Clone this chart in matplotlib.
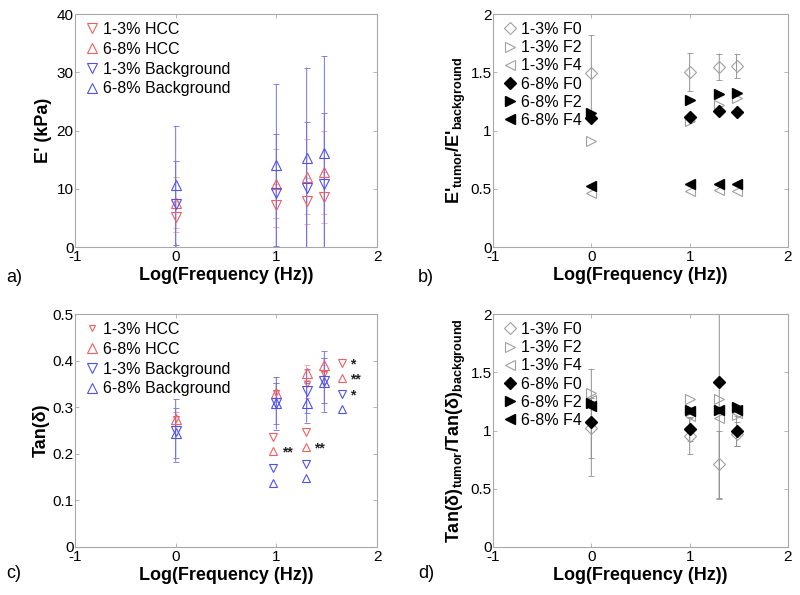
import matplotlib
matplotlib.use('Agg')
import matplotlib.pyplot as plt

plt.rcParams['font.family'] = ['Liberation Sans', 'DejaVu Sans']
plt.rcParams['mathtext.fontset'] = 'custom'
plt.rcParams['mathtext.rm'] = 'Liberation Sans'
plt.rcParams['mathtext.bf'] = 'Liberation Sans:bold'
plt.rcParams['mathtext.it'] = 'Liberation Sans:italic'

# ---------------- data ----------------
log_freq = [0.0, 1.0, 1.301, 1.477]

# a) E' (kPa)
e_hcc_13 = [5.2, 7.2, 7.9, 8.5]
e_hcc_13_sd = [2.7, 3.7, 4.0, 4.3]
e_hcc_68 = [7.6, 10.9, 12.1, 12.8]
e_hcc_68_sd = [4.4, 5.9, 6.4, 7.2]
e_bg_13 = [7.3, 9.3, 10.1, 10.8]
e_bg_13_sd = [7.5, 10.1, 11.3, 12.2]
e_bg_68 = [10.6, 14.0, 15.2, 16.2]
e_bg_68_sd = [10.2, 13.9, 15.6, 16.6]

# b) E'tumor / E'background
rb_13_f0 = [1.49, 1.50, 1.545, 1.553]
rb_13_f0_sd = [0.33, 0.165, 0.115, 0.105]
rb_13_f2 = [0.91, 1.08, 1.22, 1.275]
rb_13_f4 = [0.467, 0.48, 0.49, 0.478]
rb_68_f0 = [1.11, 1.12, 1.166, 1.157]
rb_68_f2 = [1.15, 1.26, 1.31, 1.324]
rb_68_f4 = [0.52, 0.54, 0.544, 0.544]

# c) Tan(delta)
t_hcc_13 = [0.274, 0.331, 0.349, 0.371]
t_hcc_13_sd = [0.015, 0.020, 0.030, 0.020]
t_hcc_68 = [0.274, 0.331, 0.374, 0.390]
t_hcc_68_sd = [0.015, 0.033, 0.016, 0.015]
t_bg_13 = [0.250, 0.308, 0.335, 0.357]
t_bg_13_sd = [0.067, 0.056, 0.047, 0.048]
t_bg_68 = [0.245, 0.308, 0.310, 0.355]
t_bg_68_sd = [0.053, 0.044, 0.043, 0.065]

# c) significance marker columns
sig_x = [0.97, 1.29, 1.65]
sig_hcc_13 = [0.237, 0.247, 0.394]
sig_hcc_68 = [0.206, 0.214, 0.362]
sig_bg_13 = [0.170, 0.178, 0.328]
sig_bg_68 = [0.138, 0.147, 0.296]
sig_hcc_13_txt = ['', '', '*']
sig_hcc_68_txt = ['**', '**', '**']
sig_bg_13_txt = ['', '', '*']

# d) Tan(delta)tumor / Tan(delta)background
rd_13_f0 = [1.02, 0.955, 0.71, 0.97]
rd_13_f0_sd = [0.26, 0.16, 0.29, 0.10]
rd_13_f2 = [1.32, 1.27, 1.27, 1.13]
rd_13_f4 = [1.26, 1.124, 1.105, 1.15]
rd_68_f0 = [1.07, 1.01, 1.413, 0.996]
rd_68_f0_sd = [0.46, 0.10, 1.0, 0.13]
rd_68_f2 = [1.24, 1.176, 1.18, 1.20]
rd_68_f4 = [1.21, 1.17, 1.175, 1.18]

# ---------------- style ----------------
RED = '#f06060'
BLUE = '#5050f0'
ERED = '#f4a0a0'
EBLUE = '#7070f2'
GRAY = '#a0a0a0'
EGRAY = '#909090'
SPINE = '#a8a8a8'
FS_TICK = 11
FS_LAB = 13
FS_LEG = 11.5

fig = plt.figure(figsize=(8.0, 5.95), dpi=100)
W, H = 800, 595


def make_ax(x0, y0, x1, y1):
    return fig.add_axes([x0 / W, 1 - y1 / H, (x1 - x0) / W, (y1 - y0) / H])


def style(ax, ylim, yticks, ylabels):
    ax.set_xlim(-1, 2)
    ax.set_ylim(*ylim)
    ax.set_xticks([-1, 0, 1, 2])
    ax.set_xticklabels(['-1', '0', '1', '2'])
    ax.set_yticks(yticks)
    ax.set_yticklabels(ylabels)
    for s in ax.spines.values():
        s.set_color(SPINE)
        s.set_linewidth(0.8)
    ax.tick_params(direction='in', length=3, width=0.6, color=SPINE,
                   top=True, right=True, labelsize=FS_TICK, pad=1)
    ax.tick_params(axis='x', pad=2)
    ax.set_xlabel('Log(Frequency (Hz))', fontsize=FS_LAB, fontweight='bold',
                  labelpad=2)


def legend(ax, spacing):
    ax.legend(loc='upper left', frameon=False, fontsize=FS_LEG, handletextpad=0.15,
              labelspacing=spacing, borderaxespad=0.2, handlelength=1.1,
              borderpad=0.3)


def ebar(ax, y, sd, color):
    cont = ax.errorbar(log_freq, y, yerr=sd, fmt='none', ecolor=color,
                       elinewidth=0.7, capsize=2, capthick=0.6)
    for art in cont.lines[1] + cont.lines[2]:
        art.set_snap(False)
    return cont


axa = make_ax(75, 14, 377, 247)
axb = make_ax(493, 14, 788, 247)
axc = make_ax(75, 314, 377, 547)
axd = make_ax(493, 314, 788, 547)

# ---- panel a ----
for y, sd, c in [(e_hcc_13, e_hcc_13_sd, ERED), (e_hcc_68, e_hcc_68_sd, ERED),
                 (e_bg_13, e_bg_13_sd, EBLUE), (e_bg_68, e_bg_68_sd, EBLUE)]:
    ebar(axa, y, sd, c)
axa.plot(log_freq, e_hcc_13, 'v', ms=7.5, mfc='none', mec=RED, mew=0.8, ls='none', label='1-3% HCC')
axa.plot(log_freq, e_hcc_68, '^', ms=7.5, mfc='none', mec=RED, mew=0.8, ls='none', label='6-8% HCC')
axa.plot(log_freq, e_bg_13, 'v', ms=7.5, mfc='none', mec=BLUE, mew=0.8, ls='none', label='1-3% Background')
axa.plot(log_freq, e_bg_68, '^', ms=7.5, mfc='none', mec=BLUE, mew=0.8, ls='none', label='6-8% Background')
style(axa, (0, 40), [0, 10, 20, 30, 40], ['0', '10', '20', '30', '40'])
axa.set_ylabel("E' (kPa)", fontsize=FS_LAB, fontweight='bold', labelpad=3)
legend(axa, 0.3)

# ---- panel b ----
ebar(axb, rb_13_f0, rb_13_f0_sd, EGRAY)
axb.plot(log_freq, rb_13_f0, 'D', ms=6, mfc='none', mec=GRAY, mew=0.8, ls='none', label='1-3% F0')
axb.plot(log_freq, rb_13_f2, '>', ms=7, mfc='none', mec=GRAY, mew=0.8, ls='none', label='1-3% F2')
axb.plot(log_freq, rb_13_f4, '<', ms=7, mfc='none', mec=GRAY, mew=0.8, ls='none', label='1-3% F4')
axb.plot(log_freq, rb_68_f0, 'D', ms=6, mfc='black', mec='black', ls='none', label='6-8% F0')
axb.plot(log_freq, rb_68_f2, '>', ms=7, mfc='black', mec='black', ls='none', label='6-8% F2')
axb.plot(log_freq, rb_68_f4, '<', ms=7, mfc='black', mec='black', ls='none', label='6-8% F4')
style(axb, (0, 2), [0, 0.5, 1, 1.5, 2], ['0', '0.5', '1', '1.5', '2'])
axb.set_ylabel(r"E'$_\mathbf{tumor}$/E'$_\mathbf{background}$", fontsize=FS_LAB,
               fontweight='bold', labelpad=2)
legend(axb, 0.2)

# ---- panel c ----
for y, sd, c in [(t_hcc_13, t_hcc_13_sd, ERED), (t_hcc_68, t_hcc_68_sd, ERED),
                 (t_bg_13, t_bg_13_sd, EBLUE), (t_bg_68, t_bg_68_sd, EBLUE)]:
    ebar(axc, y, sd, c)
axc.plot(log_freq, t_hcc_13, 'v', ms=5, mfc='none', mec=RED, mew=0.8, ls='none', label='1-3% HCC')
axc.plot(log_freq, t_hcc_68, '^', ms=7.5, mfc='none', mec=RED, mew=0.8, ls='none', label='6-8% HCC')
axc.plot(log_freq, t_bg_13, 'v', ms=7.5, mfc='none', mec=BLUE, mew=0.8, ls='none', label='1-3% Background')
axc.plot(log_freq, t_bg_68, '^', ms=7.5, mfc='none', mec=BLUE, mew=0.8, ls='none', label='6-8% Background')
axc.plot(sig_x, sig_hcc_13, 'v', ms=6, mfc='none', mec=RED, mew=0.8, ls='none')
axc.plot(sig_x, sig_hcc_68, '^', ms=6, mfc='none', mec=RED, mew=0.8, ls='none')
axc.plot(sig_x, sig_bg_13, 'v', ms=6, mfc='none', mec=BLUE, mew=0.8, ls='none')
axc.plot(sig_x, sig_bg_68, '^', ms=6, mfc='none', mec=BLUE, mew=0.8, ls='none')
for ys, ts in [(sig_hcc_13, sig_hcc_13_txt), (sig_hcc_68, sig_hcc_68_txt),
               (sig_bg_13, sig_bg_13_txt)]:
    for xv, yv, t in zip(sig_x, ys, ts):
        if t:
            axc.annotate(t, (xv, yv), xytext=(6, -1), textcoords='offset points',
                         ha='left', va='center', fontsize=10, fontweight='bold',
                         color='#222222')
style(axc, (0, 0.5), [0, 0.1, 0.2, 0.3, 0.4, 0.5],
      ['0', '0.1', '0.2', '0.3', '0.4', '0.5'])
axc.set_ylabel('Tan(δ)', fontsize=FS_LAB, fontweight='bold', labelpad=2)
legend(axc, 0.3)

# ---- panel d ----
ebar(axd, rd_13_f0, rd_13_f0_sd, EGRAY)
ebar(axd, rd_68_f0, rd_68_f0_sd, EGRAY)
axd.plot(log_freq, rd_13_f0, 'D', ms=6, mfc='none', mec=GRAY, mew=0.8, ls='none', label='1-3% F0')
axd.plot(log_freq, rd_13_f2, '>', ms=7, mfc='none', mec=GRAY, mew=0.8, ls='none', label='1-3% F2')
axd.plot(log_freq, rd_13_f4, '<', ms=7, mfc='none', mec=GRAY, mew=0.8, ls='none', label='1-3% F4')
axd.plot(log_freq, rd_68_f0, 'D', ms=6, mfc='black', mec='black', ls='none', label='6-8% F0')
axd.plot(log_freq, rd_68_f2, '>', ms=7, mfc='black', mec='black', ls='none', label='6-8% F2')
axd.plot(log_freq, rd_68_f4, '<', ms=7, mfc='black', mec='black', ls='none', label='6-8% F4')
style(axd, (0, 2), [0, 0.5, 1, 1.5, 2], ['0', '0.5', '1', '1.5', '2'])
axd.set_ylabel(r"Tan(δ)$_\mathbf{tumor}$/Tan(δ)$_\mathbf{background}$",
               fontsize=FS_LAB, fontweight='bold', labelpad=2)
legend(axd, 0.2)

# panel letters
for txt, x, y in [('a)', 6, 277), ('b)', 418, 277), ('c)', 6, 573), ('d)', 418, 573)]:
    fig.text(x / W, 1 - y / H, txt, fontsize=13, ha='left', va='center')

fig.savefig('out.png', dpi=100)
